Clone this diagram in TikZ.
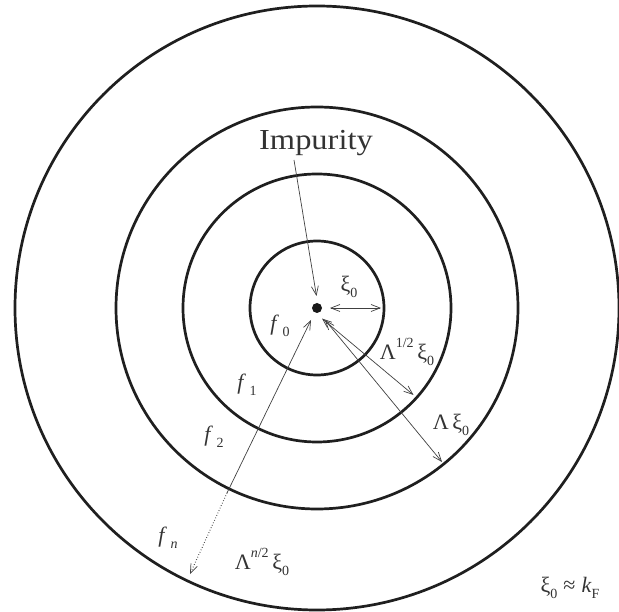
\documentclass[tikz,border=0pt]{standalone}
\usepackage{fontspec}
\setmainfont{Liberation Serif}
\usetikzlibrary{arrows.meta}
\newcommand{\lo}[1]{\raisebox{-0.28em}{\fontsize{14}{16}\selectfont #1}}
\newcommand{\hi}[1]{\raisebox{0.55em}{\fontsize{14}{16}\selectfont #1}}
\tikzset{
  ring/.style={draw=black!88, line width=2.7pt},
  thin arrow/.style={draw=black!75, line width=0.7pt},
  tip/.tip={Straight Barb[length=9pt,width=7pt,line width=0.7pt]},
  lab/.style={inner sep=0pt, text=black!80, font=\fontsize{22}{26}\selectfont},
  biglab/.style={inner sep=0pt, text=black!80, font=\fontsize{29}{34}\selectfont},
}
\begin{document}
\begin{tikzpicture}[x=1pt,y=-1pt]
\useasboundingbox (0,0) rectangle (619,612);
\coordinate (c) at (317,308);
% rings
\draw[ring] (c) circle[radius=67];
\draw[ring] (c) circle[radius=134];
\draw[ring] (c) circle[radius=201];
\draw[ring] (c) circle[radius=302];
% impurity dot
\node[circle, fill=black!90, inner sep=0pt, minimum size=10pt] (dot) at (c) {};
% labels
\node[biglab, xscale=1.12] (imp) at (316,143) {Impurity};
\node[lab] (xi) at (349,287) {ξ\lo{0}};
\node[lab] (lhalf) at (407,352) {Λ\hi{1/2}\,ξ\lo{0}};
\node[lab] (lone) at (451,425) {Λ\,ξ\lo{0}};
\node[lab] (f0) at (280,326) {\textit{f}\,\lo{0}};
\node[lab] (f1) at (247,385) {\textit{f}\,\lo{1}};
\node[lab] (f2) at (214,437) {\textit{f}\,\lo{2}};
\node[lab] (fn) at (168,538) {\textit{f}\,\lo{\textit{n}}};
\node[lab] (ln) at (262,562) {Λ\hi{\textit{n}/2}\,ξ\lo{0}};
\node[lab] (rel) at (570,588) {ξ\lo{0}\;≈\;\textit{k}\lo{F}};
% arrow end points
\coordinate (impfoot) at (294,160);
\coordinate (impend) at (316.5,296);
\coordinate (r0a) at (330,308);
\coordinate (r0b) at (381,308);
\coordinate (r1a) at (322,318.5);
\coordinate (r1b) at (413.5,395);
\coordinate (r2a) at (325,320);
\coordinate (r2b) at (442,462);
\coordinate (rna) at (311,320);
\coordinate (rnm) at (227,493);
\coordinate (rnb) at (190,574);
% arrows
\draw[thin arrow, -tip] (impfoot) -- (impend);
\draw[thin arrow, tip-tip] (r0a) -- (r0b);
\draw[thin arrow, tip-tip] (r1a) -- (r1b);
\draw[thin arrow, tip-tip] (r2a) -- (r2b);
\draw[thin arrow, tip-] (rna) -- (rnm);
\draw[thin arrow, dotted, line width=1pt, -tip] (rnm) -- (rnb);
\end{tikzpicture}
\end{document}
